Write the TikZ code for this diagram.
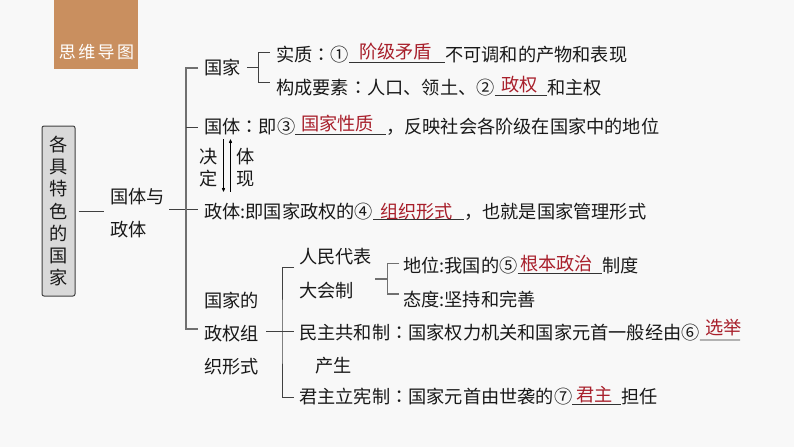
\documentclass[tikz,border=0pt]{standalone}
\usepackage{fontspec}
\usepackage{color}
\setmainfont{Noto Sans CJK SC}
\newfontfamily\colonfont{Noto Sans CJK TC}
\newfontfamily\tabfont[LetterSpace=14]{Noto Sans CJK SC}
\usetikzlibrary{arrows}
\definecolor{pagegray}{HTML}{F8F8F8}
\definecolor{tabbrown}{HTML}{C98F5F}
\definecolor{boxgray}{HTML}{D9D9D9}
\definecolor{linegray}{HTML}{404040}
\definecolor{softgray}{HTML}{707070}
\definecolor{ansred}{HTML}{A81F2B}
\newcommand{\cn}{{\colonfont ：}}
\newcommand{\rowsize}{\fontsize{18.2pt}{22pt}\selectfont}
\tikzset{
    rowtext/.style = {anchor=west, inner sep=0pt, text height=16pt, text depth=2.2pt, text=black!90, font=\rowsize},
    anstext/.style = {rowtext, text=ansred},
    blocktext/.style = {anchor=west, inner sep=0pt, align=left, text=black!90, font=\fontsize{18.2pt}{#1}\selectfont},
    branch/.style = {draw=linegray, line width=1pt},
    softbranch/.style = {draw=softgray, line width=1.3pt},
    fillin/.style = {draw=black!80, line width=0.8pt},
    tiearrow/.style = {->, >=stealth', line width=0.45pt},
}
\begin{document}
\begin{tikzpicture}[x=1pt,y=-1pt]
    \useasboundingbox[fill=pagegray] (0,0) rectangle (794,447);
    \node[fill=tabbrown, minimum width=84.5pt, minimum height=69pt, inner sep=0pt, anchor=north west] (tab) at (53.5,0) {};
    \node[text=white, font=\tabfont\fontsize{17pt}{20pt}\selectfont, inner sep=0pt] (tabtext) at (96.5,52) {思维导图};

    \node[draw=linegray, fill=boxgray, rounded corners=2pt, line width=1pt, minimum width=33pt, minimum height=170pt, inner sep=0pt, align=center, font=\fontsize{18.2pt}{22.2pt}\selectfont, text=black!90] (title) at (58.5,211) {各\\具\\特\\色\\的\\国\\家};
    \node[blocktext=33pt] (yuzheng) at (110,213) {国体与\\政体};

    \node[rowtext] (guojia) at (204,68) {国家};
    \node[rowtext] (shizhi) at (276,55) {实质\cn ①};
    \node[anstext] (a1) at (359,52) {阶级矛盾};
    \node[rowtext] (s2) at (445,55) {不可调和的产物和表现};
    \node[rowtext] (gouc) at (276,88) {构成要素\cn 人口、领土、②};
    \node[anstext] (a2) at (501,85) {政权};
    \node[rowtext] (g2) at (547,88) {和主权};

    \node[rowtext] (guoti) at (204,127) {国体\cn 即③};
    \node[anstext] (a3) at (301,124) {国家性质};
    \node[rowtext] (t2) at (386,127) {，反映社会各阶级在国家中的地位};
    \node[blocktext=22pt] (jueding) at (199,168) {决\\定};
    \node[blocktext=22pt] (tixian) at (236,168) {体\\现};

    \node[rowtext] (zhengti) at (204,212) {政体:即国家政权的④};
    \node[anstext] (a4) at (380,212) {组织形式};
    \node[rowtext] (z2) at (464,212) {，也就是国家管理形式};

    \node[blocktext=33pt] (zuzhi) at (204,334) {国家的\\政权组\\织形式};
    \node[blocktext=34pt] (renda) at (299,274) {人民代表\\大会制};
    \node[rowtext] (diwei) at (403,266) {地位:我国的⑤};
    \node[anstext] (a5) at (520,264) {根本政治};
    \node[rowtext] (d2) at (602,266) {制度};
    \node[rowtext] (taidu) at (403,300) {态度:坚持和完善};
    \node[rowtext] (minzhu) at (299,333) {民主共和制\cn 国家权力机关和国家元首一般经由⑥};
    \node[anstext] (a6) at (705,328) {选举};
    \node[rowtext] (chansheng) at (315,366) {产生};
    \node[rowtext] (junzhu) at (299,397) {君主立宪制\cn 国家元首由世袭的⑦};
    \node[anstext] (a7) at (576,395) {君主};
    \node[rowtext] (j2) at (621,397) {担任};

    \coordinate (trunk) at (186,209);
    \coordinate (trunkend) at (186,329);
    \coordinate (jiabar) at (258.5,67);
    \coordinate (zubar) at (282,331);
    \coordinate (rdbar) at (387.5,279);
    \coordinate (u6end) at (740,340);

    \draw[branch] ([xshift=3pt]title.east) -- ([xshift=-6pt]yuzheng.west |- title.east);
    \draw[branch] ([xshift=4pt]yuzheng.east |- trunk) -- ([xshift=-6pt]zhengti.west |- trunk);
    \draw[softbranch] ([xshift=-6pt]guojia.west) -| (trunk) |- ([xshift=-6pt]zuzhi.west |- trunkend);
    \draw[branch] (trunk |- guoti.west) -- ([xshift=-6pt]guoti.west);

    \draw[branch] ([xshift=6pt,yshift=1pt]guojia.east) -- (jiabar);
    \draw[branch] ([xshift=-6pt,yshift=3pt]shizhi.west) -| (jiabar) |- ([xshift=-6pt,yshift=5.5pt]gouc.west);

    \draw[branch] ([xshift=7pt]zuzhi.east |- zubar) -- ([xshift=-5pt]minzhu.west |- zubar);
    \draw[branch] ([xshift=-5pt,yshift=7pt]renda.west) -| (zubar) |- ([xshift=-5pt]junzhu.west);

    \draw[softbranch] ([xshift=3pt]renda.east |- rdbar) -- (rdbar);
    \draw[softbranch] ([xshift=-4pt,yshift=2.5pt]diwei.west) -| (rdbar) |- ([xshift=-4pt,yshift=6pt]taidu.west);

    \draw[tiearrow] ([xshift=19.5pt,yshift=-3pt]guoti.south west) -- ([xshift=19.5pt,yshift=11pt]zhengti.north west);
    \draw[tiearrow] ([xshift=26.5pt,yshift=11pt]zhengti.north west) -- ([xshift=26.5pt,yshift=-3pt]guoti.south west);

    \draw[fillin] (shizhi.base east) -- (s2.base west);
    \draw[fillin] (gouc.base east) -- (g2.base west);
    \draw[fillin] (guoti.base east) -- (t2.base west);
    \draw[fillin] (zhengti.base east) -- (z2.base west);
    \draw[fillin] (diwei.base east) -- (d2.base west);
    \draw[fillin] (minzhu.base east) -- (u6end);
    \draw[fillin] (junzhu.base east) -- (j2.base west);
\end{tikzpicture}
\end{document}
